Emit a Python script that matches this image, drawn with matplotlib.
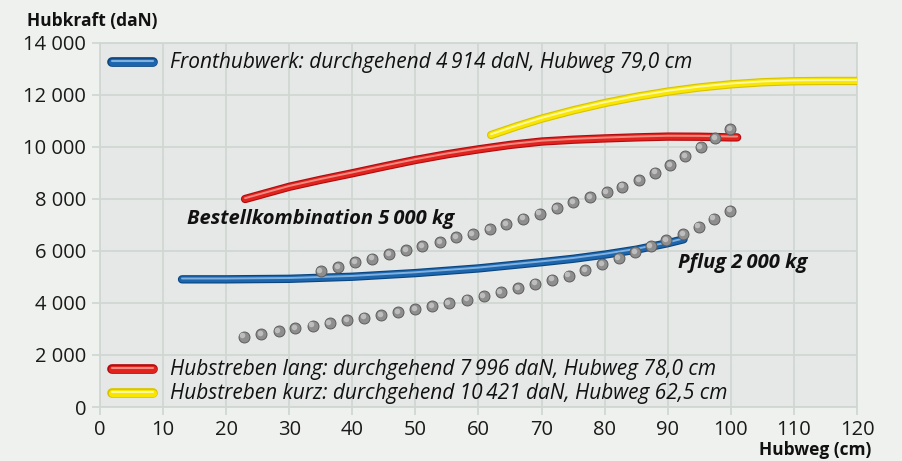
import matplotlib.pyplot as plt
import matplotlib.transforms as mtransforms

plt.rcParams['font.family'] = ['Open Sans', 'DejaVu Sans']

# Hubkraft-Kurven (daN) ueber Hubweg (cm)
front_x = [13, 20, 30, 40, 50, 60, 70, 75, 80, 85, 90, 92.5]
front_y = [4910, 4910, 4930, 5010, 5150, 5330, 5570, 5700, 5860, 6050, 6300, 6450]

lang_x = [23, 30, 35, 40, 45, 50, 55, 60, 65, 70, 75, 80, 85, 90, 95, 100, 101]
lang_y = [8000, 8470, 8740, 8990, 9250, 9500, 9720, 9910, 10080, 10210, 10280,
          10330, 10370, 10400, 10395, 10370, 10370]

kurz_x = [62, 66, 70, 75, 80, 85, 90, 95, 100, 105, 110, 115, 120]
kurz_y = [10460, 10790, 11090, 11410, 11690, 11930, 12130, 12290, 12410, 12490,
          12530, 12540, 12540]

# Geraete-Lasten (Punkte)
bestell_x = [35.0, 37.8, 40.5, 43.1, 45.8, 48.5, 51.1, 53.9, 56.5, 59.1, 61.8, 64.4,
             67.1, 69.7, 72.4, 75.0, 77.7, 80.3, 82.8, 85.5, 88.0, 90.4, 92.8,
             95.2, 97.5, 99.9]
bestell_y = [5230, 5380, 5560, 5700, 5870, 6030, 6180, 6330, 6530, 6650, 6850, 7040,
             7240, 7440, 7650, 7870, 8060, 8270, 8470, 8720, 9010, 9310, 9650,
             10000, 10350, 10690]

pflug_x = [22.8, 25.6, 28.3, 30.9, 33.7, 36.4, 39.2, 41.9, 44.6, 47.3, 50.0, 52.7,
           55.3, 58.2, 60.8, 63.5, 66.3, 69.0, 71.7, 74.3, 76.9, 79.6, 82.2, 84.8,
           87.3, 89.8, 92.4, 94.9, 97.3, 99.9]
pflug_y = [2700, 2810, 2920, 3030, 3120, 3220, 3330, 3430, 3530, 3640, 3760, 3870,
           4000, 4120, 4260, 4420, 4580, 4740, 4900, 5050, 5260, 5490, 5720, 5950,
           6180, 6410, 6650, 6930, 7240, 7550]

x_ticks = list(range(0, 121, 10))
y_ticks = list(range(0, 14001, 2000))
y_labels = ['0', '2 000', '4 000', '6 000', '8 000', '10 000', '12 000', '14 000']

labels = ['Fronthubwerk: durchgehend 4\u2009914 daN, Hubweg 79,0 cm',
          'Hubstreben lang: durchgehend 7\u2009996 daN, Hubweg 78,0 cm',
          'Hubstreben kurz: durchgehend 10\u2009421 daN, Hubweg 62,5 cm']

# (Rand, Farbe, Glanz)
blue = ('#0a4580', '#1d66ae', '#7fb0de')
red = ('#b00c10', '#e2231d', '#f08a80')
yellow = ('#d8c300', '#f8e600', '#fff8a0')

fig = plt.figure(figsize=(9.03, 4.61), dpi=100, facecolor='#eff1ee')
ax = fig.add_axes([100 / 903, 54 / 461, 757 / 903, 364 / 461])
ax.set_facecolor('#e6e8e7')

grid_c = '#d0d7d2'
ax.set_xlim(0, 120)
ax.set_ylim(0, 14000)
ax.set_xticks(x_ticks)
ax.set_yticks(y_ticks)
ax.set_yticklabels(y_labels)
ax.grid(True, color=grid_c, lw=1.3)
ax.set_axisbelow(True)
for s in ax.spines.values():
    s.set_color(grid_c)
    s.set_linewidth(1.3)
ax.tick_params(colors=grid_c, labelcolor='#1a1a1a', labelsize=14.5, length=6, width=1.3)
ax.tick_params(axis='y', pad=4)


def tube(x, y, cols, lw=6.0):
    ax.plot(x, y, color=cols[0], lw=lw, solid_capstyle='round', zorder=3)
    ax.plot(x, y, color=cols[1], lw=lw - 1.6, solid_capstyle='round', zorder=3)
    hi = mtransforms.offset_copy(ax.transData, fig=fig, x=0, y=0.6, units='points')
    ax.plot(x, y, color=cols[2], lw=1.4, solid_capstyle='round', zorder=3, transform=hi)


tube(front_x, front_y, blue)
tube(lang_x, lang_y, red)
tube(kurz_x, kurz_y, yellow)

sh = mtransforms.offset_copy(ax.transData, fig=fig, x=-1.0, y=1.0, units='points')
for px, py in [(bestell_x, bestell_y), (pflug_x, pflug_y)]:
    ax.scatter(px, py, s=62, color='#8e8e8e', edgecolors='#5c5c5c', linewidths=0.7, zorder=4)
    ax.scatter(px, py, s=16, color='#bdbdbd', linewidths=0, zorder=5, transform=sh)

ax.text(13.8, 7230, 'Bestellkombination 5\u2009000 kg', fontsize=14.5, fontstyle='italic',
        fontweight='bold', va='center', color='#111111')
ax.text(91.6, 5540, 'Pflug 2\u2009000 kg', fontsize=14.5, fontstyle='italic',
        fontweight='bold', va='center', color='#111111')


# Legende als Text mit Roehrchen
def legend_item(ypix, cols, text):
    y = 1 - ypix / 461
    x0, x1 = 112 / 903, 153 / 903
    for c, w, dy in [(cols[0], 7, 0), (cols[1], 5.2, 0), (cols[2], 1.5, 0.9)]:
        fig.add_artist(plt.Line2D([x0, x1], [y + dy / 461, y + dy / 461], color=c, lw=w,
                                  solid_capstyle='round', transform=fig.transFigure))
    fig.text(170 / 903, y, text, fontsize=15, fontstyle='italic', va='center', color='#111111')


legend_item(62, blue, labels[0])
legend_item(369, red, labels[1])
legend_item(393, yellow, labels[2])

fig.text(27 / 903, 1 - 21 / 461, 'Hubkraft (daN)', fontsize=12.5, fontweight='bold',
         va='center', color='#111111')
fig.text(871 / 903, 1 - 450 / 461, 'Hubweg (cm)', fontsize=12.5, fontweight='bold',
         va='center', ha='right', color='#111111')

fig.savefig('out.png', dpi=100, facecolor=fig.get_facecolor())
